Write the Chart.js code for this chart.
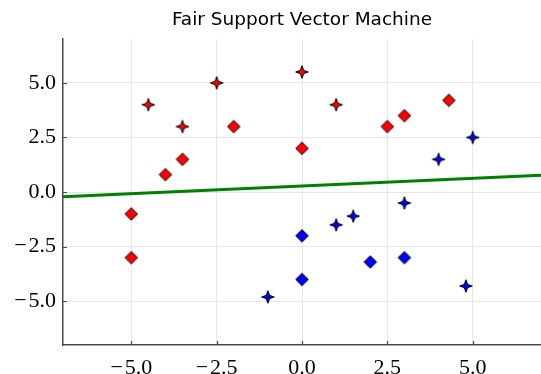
<!DOCTYPE html>
<html>
<head>
<meta charset="utf-8">
<title>Fair Support Vector Machine</title>
<script src="https://cdn.jsdelivr.net/npm/chart.js@4.4.0/dist/chart.umd.min.js"></script>
<style>
  html, body { margin: 0; padding: 0; background: #fff; }
  #wrap { width: 541px; height: 374px; }
</style>
</head>
<body>
<div id="wrap"><canvas id="svm_chart" width="541" height="374"></canvas></div>
<script>
// ---------- data ----------
const redDiamondX = [-5, -5, -4, -3.5, -2, 0, 2.5, 3, 4.3];
const redDiamondY = [-1, -3, 0.8, 1.5, 3, 2, 3, 3.5, 4.2];

const redStarX = [-4.5, -3.5, -2.5, 0, 1];
const redStarY = [4, 3, 5, 5.5, 4];

const blueDiamondX = [0, 0, 2, 3];
const blueDiamondY = [-2, -4, -3.2, -3];

const blueStarX = [-1, 1, 1.5, 3, 4, 5, 4.8];
const blueStarY = [-4.8, -1.5, -1.1, -0.5, 1.5, 2.5, -4.3];

// separating line, evaluated at the plot edges
const lineX = [-7, 7];
const lineY = [-0.21, 0.77];

const xTicks = [-5, -2.5, 0, 2.5, 5];
const yTicks = [-5, -2.5, 0, 2.5, 5];

// ---------- helpers ----------
const toPoints = (xs, ys) => xs.map((x, i) => ({ x, y: ys[i] }));

const fmtTick = (v) => {
    const s = Math.abs(v).toFixed(1);
    return v < 0 ? "\u2212\u200a" + s : s;
};

// filled marker sprites with a black outline
const makeMarker = (shape, color) => {
    const c = document.createElement("canvas");
    c.width = 16;
    c.height = 16;
    const g = c.getContext("2d");
    const cx = 8, cy = 8;
    g.beginPath();
    if (shape === "diamond") {
        const r = 6.3;
        g.moveTo(cx, cy - r);
        g.lineTo(cx + r, cy);
        g.lineTo(cx, cy + r);
        g.lineTo(cx - r, cy);
    } else {
        const ro = 6.3, ri = 2.3;
        for (let k = 0; k < 8; k++) {
            const a = -Math.PI / 2 + k * Math.PI / 4;
            const r = k % 2 === 0 ? ro : ri;
            const px = cx + r * Math.cos(a);
            const py = cy + r * Math.sin(a);
            if (k === 0) g.moveTo(px, py);
            else g.lineTo(px, py);
        }
    }
    g.closePath();
    g.fillStyle = color;
    g.fill();
    g.lineWidth = 1;
    g.strokeStyle = "#000";
    g.stroke();
    return c;
};

const scatterSet = (xs, ys, shape, color) => ({
    type: "scatter",
    data: toPoints(xs, ys),
    pointStyle: makeMarker(shape, color),
    pointRadius: 6,
    pointHoverRadius: 6,
    backgroundColor: color,
    borderColor: "#000",
});

const SPINE = "#4a4a4a";

// small inward tick marks on the two spines
const innerTicks = {
    id: "innerTicks",
    afterDraw(chart) {
        const { ctx, chartArea, scales } = chart;
        ctx.save();
        ctx.strokeStyle = SPINE;
        ctx.lineWidth = 1.2;
        ctx.beginPath();
        scales.x.ticks.forEach((t) => {
            const px = Math.round(scales.x.getPixelForValue(t.value)) + 0.5;
            ctx.moveTo(px, chartArea.bottom);
            ctx.lineTo(px, chartArea.bottom - 4);
        });
        scales.y.ticks.forEach((t) => {
            const py = Math.round(scales.y.getPixelForValue(t.value)) + 0.5;
            ctx.moveTo(chartArea.left, py);
            ctx.lineTo(chartArea.left + 4, py);
        });
        ctx.stroke();
        ctx.restore();
    },
};

const tickFont = { family: "'Liberation Serif', 'DejaVu Serif', serif", size: 22 };

new Chart(document.getElementById("svm_chart"), {
    type: "scatter",
    data: {
        datasets: [
            scatterSet(redDiamondX, redDiamondY, "diamond", "#ff0000"),
            scatterSet(redStarX, redStarY, "star", "#ff0000"),
            scatterSet(blueDiamondX, blueDiamondY, "diamond", "#0000ff"),
            scatterSet(blueStarX, blueStarY, "star", "#0000ff"),
            {
                type: "line",
                data: toPoints(lineX, lineY),
                borderColor: "#008000",
                borderWidth: 3,
                pointRadius: 0,
                fill: false,
                tension: 0,
            },
        ],
    },
    options: {
        responsive: false,
        animation: false,
        devicePixelRatio: 1,
        layout: { autoPadding: false, padding: 0 },
        plugins: {
            legend: { display: false },
            tooltip: { enabled: false },
            title: {
                display: true,
                text: "Fair Support Vector Machine",
                fullSize: false,
                color: "#000",
                font: { family: "'DejaVu Sans', sans-serif", size: 18.5, weight: "normal", lineHeight: 1.2 },
                padding: { top: 9, bottom: 8 },
            },
        },
        scales: {
            x: {
                type: "linear",
                min: -7,
                max: 7,
                afterBuildTicks: (s) => { s.ticks = xTicks.map((v) => ({ value: v })); },
                afterFit: (s) => { s.height = 29; },
                ticks: {
                    autoSkip: false,
                    maxRotation: 0,
                    padding: 10,
                    color: "#000",
                    font: tickFont,
                    callback: (v) => fmtTick(v),
                },
                grid: { color: "#e6e6e6", lineWidth: 1, drawTicks: false },
                border: { display: true, color: SPINE, width: 1.5 },
            },
            y: {
                type: "linear",
                min: -7,
                max: 7,
                afterBuildTicks: (s) => { s.ticks = yTicks.map((v) => ({ value: v })); },
                afterFit: (s) => { s.width = 63; },
                ticks: {
                    autoSkip: false,
                    padding: 7,
                    color: "#000",
                    font: tickFont,
                    callback: (v) => fmtTick(v),
                },
                grid: { color: "#e6e6e6", lineWidth: 1, drawTicks: false },
                border: { display: true, color: SPINE, width: 1.5 },
            },
        },
    },
    plugins: [innerTicks],
});
</script>
</body>
</html>
